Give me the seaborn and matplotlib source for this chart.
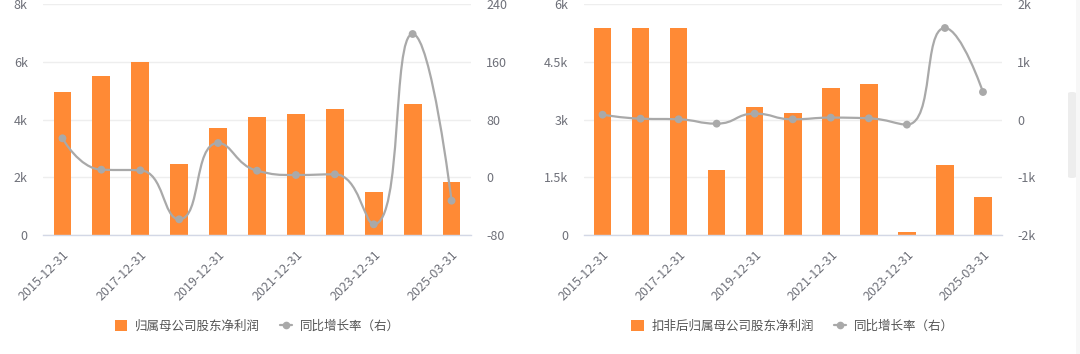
import numpy as np
import pandas as pd
import matplotlib
matplotlib.use("Agg")
import matplotlib.pyplot as plt
import seaborn as sns
from matplotlib.path import Path
from matplotlib.patches import PathPatch, FancyBboxPatch, Patch, Rectangle
from matplotlib.lines import Line2D
from matplotlib.ticker import FixedLocator, FixedFormatter

# ---------------- data ----------------
dates = ["2015-12-31", "2016-12-31", "2017-12-31", "2018-12-31", "2019-12-31",
         "2020-12-31", "2021-12-31", "2022-12-31", "2023-12-31", "2024-12-31",
         "2025-03-31"]
net_profit = [4960, 5500, 6010, 2480, 3710, 4080, 4210, 4380, 1500, 4540, 1830]
net_profit_yoy = [54.2, 10.8, 9.9, -57.9, 47.7, 9.4, 3.4, 4.4, -64.8, 198.5, -32.1]
deducted_profit = [5370, 5390, 5390, 1690, 3330, 3160, 3810, 3920, 86, 1820, 990]
deducted_yoy = [86, 17, 6, -69, 104, 6, 35, 23, -86, 1585, 478]

left_title = "归属母公司股东净利润"
right_title = "扣非后归属母公司股东净利润"
yoy_label = "同比增长率（右）"

left_yticks = [0, 2000, 4000, 6000, 8000]
left_ylabels = ["0", "2k", "4k", "6k", "8k"]
left_y2ticks = [-80, 0, 80, 160, 240]
left_y2labels = ["-80", "0", "80", "160", "240"]
right_yticks = [0, 1500, 3000, 4500, 6000]
right_ylabels = ["0", "1.5k", "3k", "4.5k", "6k"]
right_y2ticks = [-2000, -1000, 0, 1000, 2000]
right_y2labels = ["-2k", "-1k", "0", "1k", "2k"]

# ---------------- style ----------------
sns.set_theme(style="white")
plt.rcParams["font.family"] = ["Noto Sans CJK SC", "DejaVu Sans"]
plt.rcParams["axes.unicode_minus"] = False

BAR = "#FF8A35"
LINE = "#A9A9A9"
TXT = "#6E7079"
AXIS = "#D3D8E6"
GRID = "#EEEEEE"

W, H = 1080, 354
fig = plt.figure(figsize=(W / 100, H / 100), dpi=100)
fig.patch.set_facecolor("white")


def echarts_smooth_path(px, py, smooth=0.5):
    """Bezier path in pixel space following the ECharts smooth-line rule."""
    n = len(px)
    verts = [(px[0], py[0])]
    codes = [Path.MOVETO]
    cpx0, cpy0 = px[0], py[0]
    for i in range(1, n):
        x, y = px[i], py[i]
        prevX, prevY = px[i - 1], py[i - 1]
        if i == n - 1:
            cpx1, cpy1 = x, y
            ncx0, ncy0 = x, y
        else:
            nextX, nextY = px[i + 1], py[i + 1]
            vx, vy = nextX - prevX, nextY - prevY
            lp = np.hypot(x - prevX, y - prevY)
            ln = np.hypot(nextX - x, nextY - y)
            r = ln / (ln + lp)
            ncx0 = x + vx * smooth * r
            ncy0 = y + vy * smooth * r
            ncx0 = min(ncx0, max(nextX, x)); ncy0 = min(ncy0, max(nextY, y))
            ncx0 = max(ncx0, min(nextX, x)); ncy0 = max(ncy0, min(nextY, y))
            vx, vy = ncx0 - x, ncy0 - y
            cpx1 = x - vx * lp / ln
            cpy1 = y - vy * lp / ln
            cpx1 = min(cpx1, max(prevX, x)); cpy1 = min(cpy1, max(prevY, y))
            cpx1 = max(cpx1, min(prevX, x)); cpy1 = max(cpy1, min(prevY, y))
            vx, vy = x - cpx1, y - cpy1
            ncx0 = x + vx * ln / lp
            ncy0 = y + vy * ln / lp
        verts += [(cpx0, cpy0), (cpx1, cpy1), (x, y)]
        codes += [Path.CURVE4] * 3
        cpx0, cpy0 = ncx0, ncy0
    return np.array(verts), codes


def panel(rect, bars, yoy, yt, yl, y2t, y2l, legend_title, bar_frac):
    ax = fig.add_axes(rect)
    n = len(dates)
    df = pd.DataFrame({"date": dates, "val": bars})
    sns.barplot(data=df, x="date", y="val", order=dates, color=BAR, saturation=1,
                width=bar_frac, ax=ax, edgecolor="none")
    ax.set_xlim(-0.5, n - 0.5)
    ax.set_ylim(yt[0], yt[-1])
    ax.yaxis.set_major_locator(FixedLocator(yt))
    ax.yaxis.set_major_formatter(FixedFormatter(yl))
    ax.set_xticks(list(range(0, n, 2)))
    ax.set_xticklabels(dates[::2], rotation=45, ha="right", rotation_mode="anchor",
                       color=TXT, fontsize=9)
    ax.set_xlabel("")
    ax.set_ylabel("")
    ax.grid(axis="y", color=GRID, linewidth=1)
    ax.set_axisbelow(True)
    for sp in ["top", "left", "right"]:
        ax.spines[sp].set_visible(False)
    ax.spines["bottom"].set_color(AXIS)
    ax.spines["bottom"].set_linewidth(1)
    ax.tick_params(axis="x", length=4, width=1, color=AXIS, pad=5)
    ax.tick_params(axis="y", length=0, labelcolor=TXT, labelsize=9, pad=11)

    ax2 = ax.twinx()
    ax2.set_xlim(-0.5, n - 0.5)
    ax2.set_ylim(y2t[0], y2t[-1])
    ax2.yaxis.set_major_locator(FixedLocator(y2t))
    ax2.yaxis.set_major_formatter(FixedFormatter(y2l))
    ax2.tick_params(axis="y", length=0, labelcolor=TXT, labelsize=9, pad=11)
    for sp in ax2.spines.values():
        sp.set_visible(False)
    ax2.grid(False)

    xs = np.arange(n)
    # smooth line: compute bezier in pixel units, map back to data units
    sx = rect[2] * W / n
    sy = rect[3] * H / (y2t[-1] - y2t[0])
    verts, codes = echarts_smooth_path(xs * sx, np.asarray(yoy, float) * sy, 0.5)
    verts[:, 0] /= sx
    verts[:, 1] /= sy
    ax2.add_patch(PathPatch(Path(verts, codes), facecolor="none", edgecolor=LINE,
                            linewidth=1.6, zorder=3, transform=ax2.transData))
    sns.scatterplot(x=xs, y=yoy, ax=ax2, color=LINE, s=32, edgecolor="none", zorder=4,
                    legend=False)

    handles = [
        Patch(facecolor=BAR, edgecolor="none", label=legend_title),
        Line2D([], [], color=LINE, marker="o", markersize=4.5, linewidth=1.6, label=yoy_label),
    ]
    cx = rect[0] + rect[2] / 2
    fig.legend(handles=handles, loc="center", bbox_to_anchor=(cx, 1 - 326 / H), ncol=2,
               frameon=False, fontsize=9, labelcolor="#555555", handlelength=1.0,
               handleheight=1.0, columnspacing=1.6, handletextpad=0.6)
    return ax, ax2


top, bottom = 4.0, 235.3
panel([43 / W, 1 - bottom / H, 428 / W, (bottom - top) / H], net_profit, net_profit_yoy,
      left_yticks, left_ylabels, left_y2ticks, left_y2labels, left_title, 0.46)
panel([583.5 / W, 1 - bottom / H, 418.5 / W, (bottom - top) / H], deducted_profit, deducted_yoy,
      right_yticks, right_ylabels, right_y2ticks, right_y2labels, right_title, 0.46)

# page scrollbar decoration on the far right
fig.patches.append(Rectangle((1076 / W, 0), 4 / W, 1, transform=fig.transFigure,
                             facecolor="#F7F7F7", edgecolor="none"))
fig.patches.append(FancyBboxPatch((1068 / W, 1 - 178 / H), 8 / W, 86 / H,
                                  boxstyle="round,pad=0,rounding_size=0.004",
                                  transform=fig.transFigure, facecolor="#EDEDED",
                                  edgecolor="none"))

fig.savefig("out.png", dpi=100, facecolor="white")
